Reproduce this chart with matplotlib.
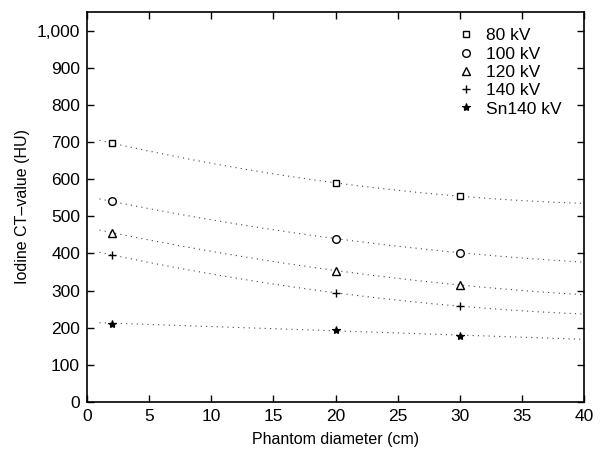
import numpy as np
import matplotlib.pyplot as plt
from matplotlib.ticker import FuncFormatter

plt.rcParams['font.family'] = ['Liberation Sans', 'DejaVu Sans']

# measured iodine CT values per tube setting
diameters = np.array([2, 20, 30])
series_labels = ['80 kV', '100 kV', '120 kV', '140 kV', 'Sn140 kV']
ct_80 = [697, 590, 554]
ct_100 = [540, 440, 402]
ct_120 = [456, 354, 315]
ct_140 = [396, 294, 258]
ct_sn140 = [211, 195, 178]
fit_degree = [2, 2, 2, 2, 1]

xticks = [0, 5, 10, 15, 20, 25, 30, 35, 40]
yticks = [0, 100, 200, 300, 400, 500, 600, 700, 800, 900, 1000]

markers = [
    dict(marker='s', ms=4.5, mfc='white', mec='black', mew=1.0),
    dict(marker='o', ms=5.5, mfc='white', mec='black', mew=1.0),
    dict(marker='^', ms=6, mfc='white', mec='black', mew=1.0),
    dict(marker='+', ms=6, mec='black', mew=1.0),
    dict(marker='*', ms=6, mfc='black', mec='black', mew=0.8),
]

fig = plt.figure(figsize=(6.01, 4.53), dpi=100)
ax = fig.add_axes([0.1448, 0.1126, 0.8269, 0.8609])

xfit = np.linspace(1, 40, 200)
all_ct = [ct_80, ct_100, ct_120, ct_140, ct_sn140]
for vals, deg, lab, mk in zip(all_ct, fit_degree, series_labels, markers):
    coef = np.polyfit(diameters, vals, deg)
    ax.plot(xfit, np.polyval(coef, xfit), color='#444444', lw=0.8,
            linestyle=(0, (1, 3.8)), zorder=1)
    ax.plot(diameters, vals, linestyle='none', label=lab, zorder=3, **mk)

ax.set_xlim(0, 40)
ax.set_ylim(0, 1050)
ax.set_xticks(xticks)
ax.set_yticks(yticks)
ax.yaxis.set_major_formatter(FuncFormatter(lambda v, p: f'{int(v):,}'))
ax.tick_params(direction='in', top=True, right=True, length=5, width=1,
               labelsize=12.5, pad=5)
for s in ax.spines.values():
    s.set_linewidth(1.2)

ax.set_xlabel('Phantom diameter (cm)', fontsize=11.5, labelpad=6)
ax.set_ylabel('Iodine CT\u2013value (HU)', fontsize=11.5, labelpad=5)

ax.legend(loc='upper left', bbox_to_anchor=(0.724, 0.985), frameon=False,
          fontsize=12.5, handlelength=1.0, handletextpad=0.65,
          labelspacing=0.18, borderaxespad=0.2)

fig.savefig('out.png', dpi=100)
